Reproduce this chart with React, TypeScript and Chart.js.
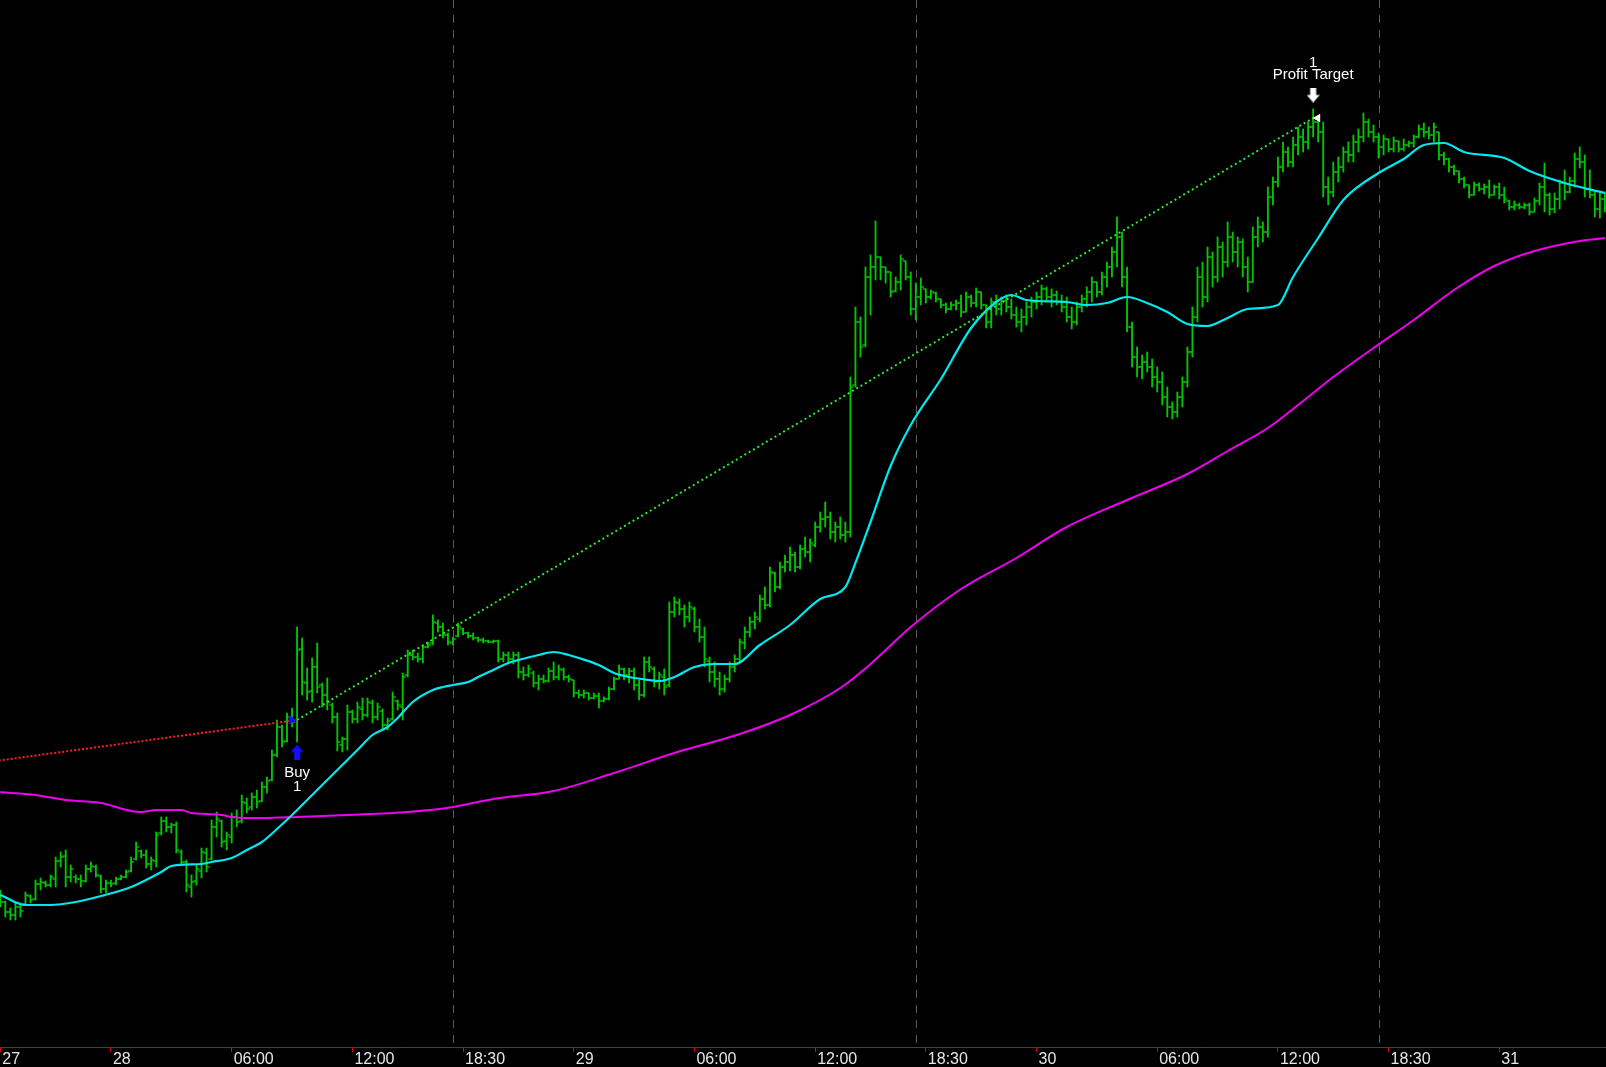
import React, { useEffect, useRef } from "react";
import { Chart, registerables } from "chart.js";

Chart.register(...registerables);

// ---- OHLC bars (15-minute bars, price in chart units) ----
const opens = [
  175,165,155,152,160,163,171,168,183,184,
  182,188,206,211,190,190,188,186,198,200,
  191,178,184,184,188,190,196,208,216,212,
  203,206,234,246,240,242,215,205,180,186,
  196,214,208,240,246,226,230,250,246,264,
  260,270,266,280,287,312,340,326,350,347,
  418,384,376,400,382,372,362,350,322,328,
  355,348,358,352,364,350,356,342,348,366,
  360,392,412,410,408,420,424,444,440,432,
  424,431,438,434,431,429,427,426,425,426,
  408,412,408,412,395,392,394,384,388,386,
  396,390,397,390,387,374,372,374,369,371,
  366,368,378,388,398,392,396,382,372,405,
  398,386,390,382,455,464,458,450,458,440,
  430,406,395,388,378,388,400,408,424,435,
  445,448,468,462,494,480,500,505,512,500,
  518,515,522,540,548,550,535,540,532,535,
  682,745,722,790,800,810,800,795,776,785,
  806,790,758,770,778,770,774,768,762,758,
  762,764,755,770,764,775,762,745,765,758,
  766,760,752,745,750,760,765,770,778,770,
  772,765,760,750,745,760,768,775,785,775,
  790,800,815,830,790,740,710,700,705,700,
  690,685,670,660,655,670,685,715,750,790,
  770,810,790,820,805,830,815,825,800,785,
  830,840,835,870,885,900,915,905,922,930,
  925,940,945,935,880,875,895,900,915,912,
  925,930,945,935,930,920,928,918,926,918,
  922,924,930,938,935,932,935,912,908,900,
  896,888,882,872,882,878,880,872,880,872,
  866,860,862,860,862,855,866,880,872,858,
  868,884,875,886,908,905,878,872,858,868
];
const highs = [
  177,166,159,164,162,175,172,187,189,186,
  192,210,215,217,202,192,192,202,205,202,
  192,187,187,190,192,197,210,225,217,217,
  210,235,250,250,244,245,217,207,192,202,
  219,219,247,255,247,235,254,257,272,269,
  274,277,285,290,317,347,342,354,359,440,
  429,399,409,424,384,389,364,354,330,362,
  357,365,369,369,367,364,358,349,375,367,
  394,417,417,414,422,425,452,447,444,434,
  430,444,439,435,434,430,429,427,427,427,
  415,415,415,415,400,402,396,392,392,399,
  405,402,399,392,387,377,377,374,374,374,
  370,380,390,402,399,399,399,387,410,410,
  400,395,398,465,470,468,462,465,460,448,
  440,410,405,395,392,405,412,428,440,450,
  455,472,480,500,495,505,512,520,515,522,
  530,528,545,555,565,555,545,550,545,690,
  760,750,800,812,846,810,800,795,790,812,
  806,795,784,789,778,777,775,768,764,765,
  767,772,775,772,779,775,762,769,772,770,
  772,768,760,758,765,770,775,782,780,778,
  776,772,770,760,765,772,780,790,785,795,
  805,820,850,835,800,745,720,712,715,708,
  700,695,680,665,675,690,720,760,800,805,
  820,815,830,825,845,835,830,828,810,840,
  850,845,880,890,910,925,920,930,940,938,
  945,958,948,945,890,905,910,920,925,932,
  938,954,948,942,934,932,928,930,926,928,
  926,932,942,944,940,944,935,915,909,902,
  896,890,882,885,884,883,887,882,884,880,
  867,866,864,864,864,869,884,904,874,874,
  887,897,890,914,920,912,897,875,874,875
];
const lows = [
  160,150,147,147,150,162,164,167,177,180,
  180,180,200,180,185,184,180,185,195,190,
  174,174,180,182,187,189,195,207,209,199,
  197,200,232,235,234,214,202,175,170,182,
  189,195,207,230,220,217,224,240,244,254,
  257,259,265,274,286,310,320,325,340,325,
  372,367,365,374,360,357,344,316,315,317,
  344,344,347,350,344,347,337,337,347,357,
  347,390,407,405,404,419,422,435,429,422,
  422,430,432,429,427,425,424,424,424,405,
  405,405,403,389,387,390,380,377,384,385,
  387,387,387,385,370,369,369,367,368,359,
  365,367,377,388,387,384,377,367,370,395,
  380,378,372,380,450,452,440,445,435,425,
  400,385,380,372,375,385,395,405,418,430,
  438,445,458,460,475,478,495,496,495,498,
  510,505,520,535,540,528,525,528,525,530,
  680,710,720,752,787,787,784,770,775,777,
  787,752,747,762,764,768,765,759,754,757,
  757,750,755,760,760,758,739,739,752,752,
  755,748,740,735,742,750,758,762,765,760,
  762,755,745,738,742,755,760,765,770,772,
  780,790,800,780,735,700,690,688,695,680,
  675,662,650,648,650,660,680,710,745,760,
  765,780,785,790,800,805,800,790,775,785,
  820,825,830,862,880,895,900,900,912,915,
  918,930,925,870,862,870,885,895,905,905,
  915,925,930,925,909,912,915,915,915,916,
  920,920,929,930,928,925,907,902,895,892,
  884,879,869,872,876,873,869,872,868,864,
  857,857,858,858,852,855,862,855,852,854,
  858,867,874,880,899,870,869,850,849,855
];
const closes = [
  165,155,152,160,156,172,167,183,185,182,
  190,206,210,190,198,188,186,198,201,192,
  178,184,183,188,190,195,205,220,212,203,
  207,232,246,240,242,217,205,182,185,198,
  215,200,240,248,225,232,250,245,265,258,
  270,265,280,286,312,340,325,350,345,417,
  385,375,400,380,372,365,350,325,328,355,
  348,360,352,365,350,360,342,346,370,362,
  390,412,410,408,420,422,445,440,432,425,
  428,440,434,431,429,427,426,425,426,408,
  412,408,412,395,392,398,384,388,386,396,
  390,398,390,388,374,372,374,369,371,366,
  368,378,388,398,392,396,382,372,405,400,
  385,392,380,455,465,458,450,460,440,430,
  408,395,388,378,388,400,408,425,435,445,
  450,468,462,495,480,500,505,512,500,518,
  515,524,540,548,550,535,540,532,535,680,
  745,720,790,800,810,800,795,775,785,808,
  790,758,770,780,770,775,768,762,758,762,
  764,755,770,764,775,762,745,765,758,766,
  760,752,745,750,760,765,770,778,770,772,
  765,760,750,745,760,768,775,785,775,790,
  800,815,830,790,740,710,700,705,700,690,
  685,670,660,655,670,685,715,750,790,770,
  810,790,820,805,830,815,825,800,785,830,
  840,835,870,885,900,915,905,922,930,925,
  940,945,935,880,875,895,900,915,912,925,
  930,945,935,930,920,928,918,926,918,922,
  924,930,938,935,932,940,912,908,900,896,
  888,882,872,882,878,880,872,880,872,868,
  860,862,860,862,855,866,880,872,858,868,
  884,875,886,908,905,878,872,858,868,860
];

// ---- time axis (bar index -> label) ----
const tickIndex = [0, 22, 46, 70, 92, 114, 138, 162, 184, 206, 230, 254, 276, 298];
const tickText = ["27", "28", "06:00", "12:00", "18:30", "29", "06:00", "12:00", "18:30", "30", "06:00", "12:00", "18:30", "31"];
const sessionStarts = [90, 182, 274];

// ---- moving averages (bar index, value) ----
const fastMaIndex = [0,5,10,15,20,26,32,34,40,42,46,49,52,55,58,61,66,71,74,77,79,82,86,88,90,93,95,98,101,103,107,110,113,115,119,122,125,129,131,134,138,142,146,151,157,163,168,170,173,177,181,187,193,198,201,204,212,216,220,224,228,232,236,240,244,248,254,257,262,267,274,279,283,287,291,299,304,311,319];
const fastMaValue = [172,162,162,165,171,180,195,201,203,205,209,217,225,238,252,267,292,317,332,340,349,365,377,380,382,385,390,397,404,407,412,415,412,409,402,394,390,387,386,390,400,403,403,422,442,468,480,504,545,601,642,688,739,765,772,767,765,762,764,770,764,755,743,741,749,758,762,790,829,867,894,908,922,924,915,909,896,884,874];
const slowMaIndex = [0,7,13,20,26,28,31,36,38,41,44,46,49,52,59,69,81,90,98,110,122,134,147,157,167,173,181,191,202,212,224,236,244,252,259,265,273,281,289,297,305,314,319];
const slowMaValue = [275,272,267,264,256,255,257,257,254,253,252,250,249,249,250,252,255,260,268,276,294,314,333,352,379,403,440,478,509,540,567,593,616,639,666,690,719,747,777,801,816,826,829];

// ---- trades ----
const priorExitIndex = -20;
const priorExitPrice = 293;
const entryIndex = 59;
const entryPrice = 347;
const exitIndex = 261;
const exitPrice = 949;
const buyArrowPrice = 315;
const targetArrowPrice = 972;
const markerText = ["Buy", "1", "Profit Target", "1"];
const markerTextIndex = [59, 59, 261, 261];
const markerTextPrice = [294, 280, 992, 1004];

const GREEN = "#00C800";

function makeArrow(color: string, up: boolean): HTMLCanvasElement {
  const c = document.createElement("canvas");
  c.width = 13;
  c.height = 15;
  const g = c.getContext("2d")!;
  g.fillStyle = color;
  g.beginPath();
  if (up) {
    g.moveTo(6.5, 0); g.lineTo(13, 7.5); g.lineTo(9.5, 7.5); g.lineTo(9.5, 15);
    g.lineTo(3.5, 15); g.lineTo(3.5, 7.5); g.lineTo(0, 7.5);
  } else {
    g.moveTo(6.5, 15); g.lineTo(13, 7.5); g.lineTo(9.5, 7.5); g.lineTo(9.5, 0);
    g.lineTo(3.5, 0); g.lineTo(3.5, 7.5); g.lineTo(0, 7.5);
  }
  g.closePath();
  g.fill();
  return c;
}

export default function App() {
  const ref = useRef<HTMLCanvasElement | null>(null);

  useEffect(() => {
    if (!ref.current) return;
    const idx = opens.map((_, i) => i);
    const upArrow = makeArrow("#1010FF", true);
    const downArrow = makeArrow("#FFFFFF", false);

    const overlay = {
      id: "overlay",
      beforeDatasetsDraw(chart: any) {
        const { ctx, chartArea, scales } = chart;
        ctx.save();
        ctx.strokeStyle = "#5A5A5A";
        ctx.lineWidth = 1;
        ctx.setLineDash([8, 7]);
        sessionStarts.forEach((s) => {
          const x = Math.round(scales.x.getPixelForValue(s)) + 0.5;
          ctx.beginPath();
          ctx.moveTo(x, chartArea.top);
          ctx.lineTo(x, chartArea.bottom);
          ctx.stroke();
        });
        ctx.restore();
      },
      afterDatasetsDraw(chart: any) {
        const { ctx, scales } = chart;
        ctx.save();
        ctx.fillStyle = "#FFFFFF";
        ctx.font = "15px 'Liberation Sans', Arial, sans-serif";
        ctx.textAlign = "center";
        ctx.textBaseline = "middle";
        markerText.forEach((t, k) => {
          ctx.fillText(
            t,
            scales.x.getPixelForValue(markerTextIndex[k]),
            scales.y.getPixelForValue(markerTextPrice[k])
          );
        });
        ctx.restore();
      },
    };

    const chart = new Chart(ref.current, {
      type: "line",
      data: {
        datasets: [
          {
            type: "scatter",
            data: [{ x: entryIndex, y: buyArrowPrice }, { x: exitIndex, y: targetArrowPrice }],
            pointStyle: [upArrow, downArrow] as any,
            pointRadius: 7,
          } as any,
          {
            type: "scatter",
            data: [{ x: entryIndex - 1.1, y: entryPrice }],
            pointStyle: "triangle",
            rotation: 90,
            pointRadius: 5.5,
            backgroundColor: "#1010FF",
            borderColor: "#1010FF",
            borderWidth: 0,
          } as any,
          {
            type: "scatter",
            data: [{ x: exitIndex + 0.9, y: exitPrice }],
            pointStyle: "triangle",
            rotation: -90,
            pointRadius: 5,
            backgroundColor: "#FFFFFF",
            borderColor: "#FFFFFF",
            borderWidth: 0,
          } as any,
          {
            type: "line",
            data: [{ x: entryIndex, y: entryPrice }, { x: exitIndex, y: exitPrice }],
            borderColor: "#2EE82E",
            borderWidth: 2,
            borderDash: [2, 3],
            pointRadius: 0,
          },
          {
            type: "line",
            data: [{ x: priorExitIndex, y: priorExitPrice }, { x: entryIndex, y: entryPrice }],
            borderColor: "#FF2020",
            borderWidth: 2,
            borderDash: [2, 2],
            pointRadius: 0,
          },
          {
            type: "line",
            data: fastMaIndex.map((x, k) => ({ x, y: fastMaValue[k] })),
            borderColor: "#00E8F0",
            borderWidth: 2.2,
            pointRadius: 0,
            cubicInterpolationMode: "monotone",
          },
          {
            type: "line",
            data: slowMaIndex.map((x, k) => ({ x, y: slowMaValue[k] })),
            borderColor: "#F000F0",
            borderWidth: 2,
            pointRadius: 0,
            cubicInterpolationMode: "monotone",
          },
          {
            type: "line",
            data: idx.map((i) => ({ x: i - 0.3, y: opens[i] })),
            showLine: false,
            pointStyle: "line",
            pointRadius: 1.6,
            pointBorderWidth: 1.3,
            pointBorderColor: GREEN,
            pointBackgroundColor: GREEN,
          },
          {
            type: "line",
            data: idx.map((i) => ({ x: i + 0.3, y: closes[i] })),
            showLine: false,
            pointStyle: "line",
            pointRadius: 1.6,
            pointBorderWidth: 1.3,
            pointBorderColor: GREEN,
            pointBackgroundColor: GREEN,
          },
          {
            type: "bar",
            data: idx.map((i) => ({ x: i, y: [lows[i], highs[i]] })) as any,
            backgroundColor: GREEN,
            borderWidth: 0,
            barThickness: 1.2,
            grouped: false,
          } as any,
        ],
      },
      options: {
        responsive: false,
        animation: false,
        events: [],
        layout: { padding: 0, autoPadding: false },
        plugins: {
          legend: { display: false },
          tooltip: { enabled: false },
          title: { display: false },
        },
        scales: {
          x: {
            type: "linear",
            min: -0.06,
            max: 319.22,
            offset: false,
            afterBuildTicks: (scale: any) => {
              scale.ticks = tickIndex.map((v) => ({ value: v }));
            },
            afterFit: (scale: any) => {
              scale.height = 20;
              scale.paddingLeft = 0;
              scale.paddingRight = 0;
            },
            grid: {
              offset: false,
              drawOnChartArea: false,
              drawTicks: true,
              tickLength: 5,
              color: "#E00000",
              tickColor: "#E00000",
              lineWidth: 1,
            },
            border: { display: true, color: "#E00000", width: 1 },
            ticks: {
              autoSkip: false,
              maxRotation: 0,
              minRotation: 0,
              align: "start",
              padding: 0,
              labelOffset: 2,
              color: "#E6E6E6",
              font: { family: "'Liberation Sans', Arial, sans-serif", size: 16, lineHeight: 1 },
              callback: (value: any) => {
                const k = tickIndex.indexOf(Number(value));
                return k >= 0 ? tickText[k] : "";
              },
            },
          } as any,
          y: {
            type: "linear",
            display: false,
            min: 20,
            max: 1067,
          },
        },
      },
      plugins: [overlay],
    });

    return () => chart.destroy();
  }, []);

  return (
    <div
      style={{
        position: "fixed",
        left: 0,
        top: 0,
        width: 1606,
        height: 1067,
        background: "#000000",
      }}
    >
      <canvas ref={ref} width={1606} height={1067} style={{ display: "block" }} />
    </div>
  );
}
